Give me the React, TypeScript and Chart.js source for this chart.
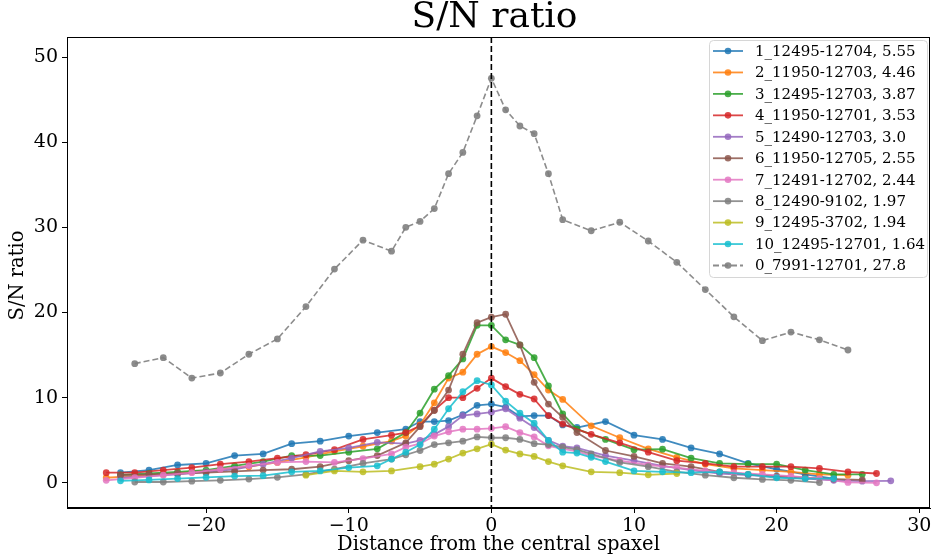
import React, { useEffect, useRef } from "react";
import { Chart, registerables } from "chart.js";
Chart.register(...registerables);

const seriesLabels = [
  "1_12495-12704, 5.55",
  "2_11950-12703, 4.46",
  "3_12495-12703, 3.87",
  "4_11950-12701, 3.53",
  "5_12490-12703, 3.0",
  "6_11950-12705, 2.55",
  "7_12491-12702, 2.44",
  "8_12490-9102, 1.97",
  "9_12495-3702, 1.94",
  "10_12495-12701, 1.64",
  "0_7991-12701, 27.8",
];

const colors = [
  "#1f77b4", "#ff7f0e", "#2ca02c", "#d62728", "#9467bd",
  "#8c564b", "#e377c2", "#7f7f7f", "#bcbd22", "#17becf", "#7f7f7f",
];

const s1X = [-26, -24, -22, -20, -18, -16, -14, -12, -10, -8, -6, -5, -4, -3, -2, -1, 0, 1, 2, 3, 4, 5, 6, 8, 10, 12, 14, 16, 18, 20, 22, 24];
const s1Y = [1.2, 1.5, 2.1, 2.3, 3.2, 3.4, 4.6, 4.9, 5.5, 5.9, 6.3, 7.2, 7.2, 7.3, 8.0, 9.1, 9.25, 8.9, 7.8, 7.9, 7.9, 6.8, 6.5, 7.2, 5.6, 5.1, 4.1, 3.4, 2.3, 1.6, 1.0, 0.5];

const s2X = [-27, -25, -23, -21, -19, -17, -15, -13, -11, -9, -7, -6, -5, -4, -3, -2, -1, 0, 1, 2, 3, 4, 5, 7, 9, 11, 13, 15, 17, 19, 21, 23, 25];
const s2Y = [0.6, 0.8, 1.0, 1.3, 1.6, 1.9, 2.4, 3.0, 3.7, 4.3, 4.9, 5.5, 6.8, 9.4, 12.3, 13.0, 15.1, 16.0, 15.3, 14.35, 12.7, 10.9, 9.8, 6.7, 5.3, 4.0, 3.0, 2.2, 1.7, 1.5, 1.3, 1.0, 0.9];

const s3X = [-26, -24, -22, -20, -18, -16, -14, -12, -10, -8, -6, -5, -4, -3, -2, -1, 0, 1, 2, 3, 4, 5, 6, 8, 10, 12, 14, 16, 18, 20, 22, 24, 26];
const s3Y = [0.95, 1.1, 1.3, 1.5, 2.0, 2.5, 3.2, 3.2, 3.6, 4.0, 5.9, 8.2, 11.0, 12.6, 14.55, 18.5, 18.5, 16.8, 16.2, 14.7, 11.4, 8.1, 6.3, 5.1, 3.9, 3.96, 2.9, 2.3, 2.2, 2.2, 1.5, 1.0, 1.0];

const s4X = [-27, -25, -23, -21, -19, -17, -15, -13, -11, -9, -7, -6, -5, -4, -3, -2, -1, 0, 1, 2, 3, 4, 5, 7, 9, 11, 13, 15, 17, 19, 21, 23, 25, 27];
const s4Y = [1.2, 1.2, 1.5, 1.8, 2.2, 2.5, 2.9, 3.3, 3.9, 5.1, 5.6, 5.9, 6.7, 8.55, 10.0, 10.0, 11.1, 12.3, 11.3, 10.4, 9.85, 7.9, 6.9, 5.7, 4.7, 3.6, 2.6, 2.3, 1.9, 1.9, 1.9, 1.7, 1.3, 1.1];

const s5X = [-26, -24, -22, -20, -18, -16, -14, -12, -10, -8, -6, -5, -4, -3, -2, -1, 0, 1, 2, 3, 4, 5, 6, 8, 10, 12, 14, 16, 18, 20, 22, 24, 26, 28];
const s5Y = [0.6, 0.8, 1.0, 1.3, 1.6, 2.2, 2.9, 3.7, 4.1, 4.75, 4.6, 5.0, 5.7, 6.6, 7.9, 8.1, 8.3, 8.7, 7.6, 6.5, 5.0, 4.3, 4.1, 3.2, 2.6, 2.0, 1.5, 1.1, 0.9, 0.7, 0.5, 0.3, 0.2, 0.24];

const s6X = [-26, -24, -22, -20, -18, -16, -14, -12, -10, -8, -6, -5, -4, -3, -2, -1, 0, 1, 2, 3, 4, 5, 6, 8, 10, 12, 14, 16, 18, 20, 22, 24, 26];
const s6Y = [0.9, 1.0, 1.1, 1.2, 1.35, 1.5, 1.6, 1.9, 2.6, 3.2, 4.7, 6.6, 8.5, 10.9, 15.1, 18.8, 19.45, 19.8, 16.2, 11.8, 9.25, 7.7, 5.9, 3.8, 3.1, 2.3, 1.9, 1.3, 1.0, 0.8, 0.6, 0.45, 0.35];

const s7X = [-27, -25, -23, -21, -19, -17, -15, -13, -11, -9, -7, -6, -5, -4, -3, -2, -1, 0, 1, 2, 3, 4, 5, 6, 7, 9, 11, 13, 15, 17, 19, 21, 23, 25, 27];
const s7Y = [0.3, 0.6, 0.9, 1.2, 1.6, 2.0, 2.4, 2.5, 2.4, 2.85, 3.4, 4.2, 4.6, 5.5, 6.0, 6.3, 6.3, 6.4, 6.6, 5.9, 5.4, 4.35, 4.0, 3.7, 3.2, 2.6, 2.1, 1.8, 1.4, 1.2, 1.0, 0.8, 0.5, 0.05, 0.0];

const s8X = [-25, -23, -21, -19, -17, -15, -13, -11, -9, -7, -6, -5, -4, -3, -2, -1, 0, 1, 2, 3, 4, 5, 6, 7, 9, 11, 13, 15, 17, 19, 21, 23];
const s8Y = [0.1, 0.1, 0.2, 0.3, 0.45, 0.65, 1.0, 1.6, 2.3, 2.8, 3.3, 3.8, 4.5, 4.7, 4.9, 5.4, 5.3, 5.3, 5.1, 4.6, 4.5, 4.2, 3.9, 3.4, 2.4, 1.9, 1.3, 0.9, 0.6, 0.4, 0.3, 0.04];

const s9X = [-13, -11, -9, -7, -5, -4, -3, -2, -1, 0, 1, 2, 3, 4, 5, 7, 9, 11, 13];
const s9Y = [0.9, 1.4, 1.3, 1.4, 1.9, 2.2, 2.8, 3.5, 4.0, 4.55, 3.85, 3.4, 3.1, 2.5, 2.0, 1.3, 1.2, 0.95, 1.1];

const s10X = [-26, -24, -22, -20, -18, -16, -14, -12, -10, -8, -7, -6, -5, -4, -3, -2, -1, 0, 1, 2, 3, 4, 5, 6, 7, 8, 10, 12, 14, 16, 18, 20, 22, 24];
const s10Y = [0.24, 0.35, 0.5, 0.65, 0.8, 0.85, 1.3, 1.4, 1.8, 2.0, 2.8, 3.6, 4.5, 6.3, 8.7, 10.7, 12.0, 11.5, 9.6, 8.2, 7.0, 5.0, 3.6, 3.5, 3.0, 2.5, 1.4, 1.3, 1.2, 1.3, 1.0, 0.6, 0.5, 0.5];

const s0X = [-25, -23, -21, -19, -17, -15, -13, -11, -9, -7, -6, -5, -4, -3, -2, -1, 0, 1, 2, 3, 4, 5, 7, 9, 11, 13, 15, 17, 19, 21, 23, 25];
const s0Y = [14.0, 14.7, 12.3, 12.9, 15.1, 16.9, 20.7, 25.1, 28.5, 27.2, 30.0, 30.7, 32.2, 36.3, 38.8, 43.1, 47.5, 43.8, 41.9, 41.0, 36.3, 30.9, 29.6, 30.6, 28.4, 25.9, 22.7, 19.5, 16.7, 17.7, 16.8, 15.6];

const seriesX = [s1X, s2X, s3X, s4X, s5X, s6X, s7X, s8X, s9X, s10X, s0X];
const seriesY = [s1Y, s2Y, s3Y, s4Y, s5Y, s6Y, s7Y, s8Y, s9Y, s10Y, s0Y];

const xTicks = [-20, -10, 0, 10, 20, 30];
const yTicks = [0, 10, 20, 30, 40, 50];

const FONT = '"DejaVu Serif", "Liberation Serif", serif';

function hexA(hex: string, a: number) {
  const r = parseInt(hex.slice(1, 3), 16);
  const g = parseInt(hex.slice(3, 5), 16);
  const b = parseInt(hex.slice(5, 7), 16);
  return `rgba(${r},${g},${b},${a})`;
}

const decorPlugin = {
  id: "decor",
  afterDatasetsDraw(chart: any) {
    const { ctx, chartArea, scales } = chart;
    const x0 = scales.x.getPixelForValue(0);
    ctx.save();
    ctx.strokeStyle = "#000";
    ctx.lineWidth = 1.6;
    ctx.setLineDash([6, 3]);
    ctx.beginPath();
    ctx.moveTo(x0, chartArea.top);
    ctx.lineTo(x0, chartArea.bottom);
    ctx.stroke();
    ctx.restore();
  },
  afterDraw(chart: any) {
    const { ctx, chartArea } = chart;
    ctx.save();
    ctx.strokeStyle = "#000";
    ctx.lineWidth = 1;
    ctx.strokeRect(chartArea.left + 0.5, chartArea.top + 0.5, chartArea.right - chartArea.left - 1, chartArea.bottom - chartArea.top - 1);
    const cx = (chartArea.left + chartArea.right) / 2;
    ctx.fillStyle = "#000";
    ctx.textAlign = "center";
    ctx.textBaseline = "middle";
    ctx.font = `36px ${FONT}`;
    ctx.fillText("S/N ratio", cx - 4, 18);
    ctx.font = `19.5px ${FONT}`;
    ctx.fillText("Distance from the central spaxel", cx, 545);
    ctx.save();
    ctx.translate(18, (chartArea.top + chartArea.bottom) / 2 + 3);
    ctx.rotate(-Math.PI / 2);
    ctx.fillText("S/N ratio", 0, 0);
    ctx.restore();

    const bx = 709, by = 40, bw = 218, bh = 237;
    ctx.fillStyle = "rgba(255,255,255,0.85)";
    ctx.strokeStyle = "#d6d6d6";
    ctx.lineWidth = 1;
    ctx.beginPath();
    (ctx as any).roundRect(bx + 0.5, by + 0.5, bw, bh, 4);
    ctx.fill();
    ctx.stroke();
    ctx.font = `15px ${FONT}`;
    ctx.textAlign = "left";
    chart.data.datasets.forEach((ds: any, i: number) => {
      const y = 51 + i * 21.45;
      ctx.strokeStyle = ds.borderColor;
      ctx.lineWidth = 1.8;
      ctx.setLineDash(ds.borderDash || []);
      ctx.beginPath();
      ctx.moveTo(713, y);
      ctx.lineTo(743, y);
      ctx.stroke();
      ctx.setLineDash([]);
      ctx.fillStyle = ds.pointBackgroundColor;
      ctx.beginPath();
      ctx.arc(728, y, 3.3, 0, Math.PI * 2);
      ctx.fill();
      ctx.fillStyle = "#000";
      ctx.fillText(ds.label, 755, y + 1);
    });
    ctx.restore();
  },
};

const fmt = (v: number) => (v < 0 ? "\u2212" + Math.abs(v) : String(v));

export default function App() {
  const ref = useRef<HTMLCanvasElement | null>(null);
  useEffect(() => {
    if (!ref.current) return;
    const datasets = seriesLabels.map((label, i) => {
      const c = hexA(colors[i], i === 10 ? 0.9 : 0.85);
      return {
        label,
        data: seriesX[i].map((x, j) => ({ x, y: seriesY[i][j] })),
        borderColor: c,
        backgroundColor: c,
        pointBackgroundColor: c,
        pointBorderColor: c,
        borderWidth: i === 10 ? 1.6 : 1.8,
        borderDash: i === 10 ? [6, 3] : [],
        pointRadius: 3.4,
        pointBorderWidth: 0,
        tension: 0,
        order: 20 - i,
      };
    });
    const chart = new Chart(ref.current, {
      type: "line",
      data: { datasets },
      options: {
        animation: false,
        responsive: false,
        devicePixelRatio: 1,
        layout: { padding: { top: 37, right: 2, left: 0, bottom: 0 } },
        plugins: { legend: { display: false }, tooltip: { enabled: false }, title: { display: false } },
        scales: {
          x: {
            type: "linear",
            min: -29.75,
            max: 30.75,
            afterFit: (s: any) => { s.height = 48; },
            afterBuildTicks: (s: any) => { s.ticks = xTicks.map((v) => ({ value: v })); },
            ticks: { callback: (v: any) => fmt(Number(v)), color: "#000", font: { family: FONT, size: 19 }, padding: 2, maxRotation: 0, autoSkip: false },
            grid: { display: true, drawOnChartArea: false, drawTicks: true, tickLength: 5, color: "#000" },
            border: { display: true, color: "#000" },
          },
          y: {
            type: "linear",
            min: -2.95,
            max: 52.35,
            afterFit: (s: any) => { s.width = 67; },
            afterBuildTicks: (s: any) => { s.ticks = yTicks.map((v) => ({ value: v })); },
            ticks: { callback: (v: any) => fmt(Number(v)), color: "#000", font: { family: FONT, size: 19 }, padding: 4, autoSkip: false },
            grid: { display: true, drawOnChartArea: false, drawTicks: true, tickLength: 5, color: "#000" },
            border: { display: true, color: "#000" },
          },
        },
      },
      plugins: [decorPlugin],
    } as any);
    return () => chart.destroy();
  }, []);
  return (
    <div style={{ position: "absolute", left: 0, top: 0, width: 934, height: 556, background: "#fff" }}>
      <canvas ref={ref} width={934} height={556} style={{ width: 934, height: 556, display: "block" }} />
    </div>
  );
}
